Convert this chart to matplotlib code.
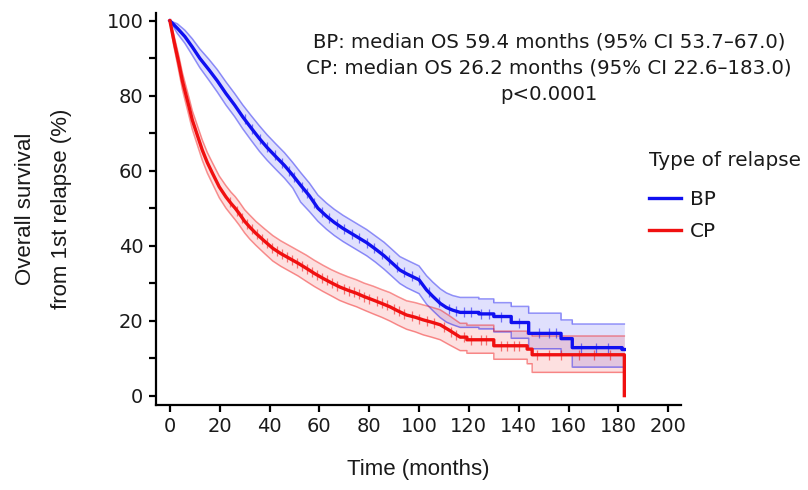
import numpy as np
import matplotlib.pyplot as plt

# Kaplan-Meier estimates: time (months), survival (%) and 95% confidence limits.
# Early on the events are dense enough that the curve is smooth; later the
# individual steps are given explicitly (repeated time = vertical drop).
bp_time = [0, 3, 6, 9, 12, 15.7, 19, 22.5, 26, 29.2, 32.5, 35.9, 39, 42.6, 46,
           49.3, 52.5, 56, 59.4, 62.8, 66, 69.5, 73, 76, 79, 82.5, 86, 89, 92.3, 95,
           97.5, 100, 103, 105.5, 108.5, 111, 113.5, 116.5,
           124, 124, 130, 130, 137, 137, 144, 144, 157, 157, 161.5, 161.5, 181.5, 181.5, 182.4]
bp_surv = [100, 98, 95.8, 93, 90, 86.9, 84, 80.6, 77.5, 74.4, 71.5, 68.6, 66.2, 63.7, 61.4,
           58.8, 56.1, 53.3, 50, 47.9, 46.2, 44.6, 43.2, 42, 40.8, 39.1, 37.3, 35.5, 33.5, 32.5,
           31.7, 30.9, 28.2, 26.5, 24.6, 23.5, 22.8, 22.2,
           22.2, 21.8, 21.8, 21.1, 21.1, 19.5, 19.5, 16.6, 16.6, 15.2, 15.2, 12.8, 12.8, 12.3, 12.3]
bp_upper = [100, 99.2, 97.5, 95.2, 92.5, 89.7, 87, 83.7, 80.6, 77.6, 74.8, 72, 69.6, 67.1, 64.8,
            62.2, 59.5, 56.7, 53.5, 51.4, 49.7, 48.1, 46.7, 45.5, 44.3, 42.6, 40.9, 39.1, 37.1, 36.2,
            35.4, 34.6, 32, 30.3, 28.5, 27.4, 26.7, 26.2,
            26.2, 25.8, 25.8, 24.8, 24.8, 23.8, 23.8, 22, 22, 20.2, 20.2, 19.1, 19.1, 19.1, 19.1]
bp_lower = [100, 96.6, 94, 90.8, 87.5, 84.1, 81, 77.5, 74.4, 71.2, 68.2, 65.2, 62.8, 60.3, 58,
            55.4, 51.6, 49.1, 46.5, 44.4, 42.7, 41.1, 39.7, 38.5, 37.3, 35.6, 33.7, 31.9, 29.9, 28.8,
            28, 27.2, 24.4, 22.7, 20.8, 19.6, 18.9, 18.2,
            18.2, 17.8, 17.8, 17, 17, 15.3, 15.3, 12.5, 12.5, 10.8, 10.8, 7.6, 7.6, 7.6, 7.6]
bp_censor = [30, 33, 36, 39, 42, 45, 48, 50, 53, 55, 58, 61, 64, 67, 70, 73, 76, 79, 82, 85,
             88, 91, 94, 97, 100, 104, 108, 112, 115, 118, 121, 125, 128, 133, 140, 148,
             152, 155, 165, 171, 176]

cp_time = [0, 1.5, 3.6, 5, 6.3, 7.7, 9, 11, 13, 15, 17.1, 19.8, 22.5, 24.5, 26.2,
           27.8, 30, 32, 34.5, 38, 41.3, 44.5, 48, 51.5, 54.7, 58, 61.4, 64.8, 68.1, 71.5,
           74.9, 78, 81.6, 85, 88.3, 91.5, 95, 98.5, 101.7, 105, 108.5, 112, 116.5,
           119.2, 119.2, 130, 130, 143.4, 143.4, 145.4, 145.4, 182.4, 182.4]
cp_surv = [100, 95, 88.6, 84, 80.6, 77, 73.5, 69.5, 65.5, 62.2, 59.3, 55.7, 53, 51.3, 50,
           48.6, 46.5, 45, 43.3, 41.2, 39.3, 37.9, 36.6, 35.3, 34, 32.6, 31.3, 30.1, 29, 28.1,
           27.3, 26.4, 25.5, 24.6, 23.7, 22.6, 21.5, 20.9, 20.2, 19.6, 18.9, 17.5, 15.6,
           15.6, 14.9, 14.9, 13.3, 13.3, 12.4, 12.4, 10.9, 10.9, 0]
cp_upper = [100, 96.5, 90.6, 86.2, 82.9, 79.4, 76, 72.1, 68.2, 64.9, 62.1, 58.6, 56, 54.3, 53.1,
            51.7, 49.6, 48.2, 46.5, 44.5, 42.7, 41.3, 40, 38.7, 37.5, 36.1, 34.8, 33.6, 32.6, 31.7,
            30.9, 30, 29.2, 28.3, 27.5, 26.4, 25.3, 24.8, 24.2, 23.6, 22.9, 21.4, 19.3,
            19.3, 18.8, 18.8, 17.2, 17.2, 16.5, 16.5, 15.9, 15.9, 15.9]
cp_lower = [100, 93.5, 86.5, 81.7, 78.2, 74.5, 71, 66.9, 62.8, 59.4, 56.5, 52.8, 50, 48.3, 46.9,
            45.5, 43.4, 41.8, 40.1, 37.9, 35.9, 34.5, 33.2, 31.9, 30.5, 29.1, 27.8, 26.6, 25.4, 24.5,
            23.7, 22.8, 21.8, 20.9, 19.9, 18.8, 17.7, 17, 16.2, 15.6, 14.9, 13.6, 12,
            12, 11.3, 11.3, 9.7, 9.7, 8.5, 8.5, 6.2, 6.2, 6.2]
cp_censor = [24, 27, 29, 31, 33, 35, 37, 39, 41, 43, 45, 47, 49, 51, 53, 55, 57, 59, 61, 63,
             65, 67, 70, 72, 74, 76, 78, 80, 83, 85, 87, 90, 92, 94, 97, 100, 103, 106, 110,
             113, 115, 118, 121, 124.8, 127, 132.8, 135.5, 138.1, 140.1, 147.5, 152.1,
             156.8, 164.1, 170.1, 176.8]

groups = [
    ('BP', bp_time, bp_surv, bp_upper, bp_lower, bp_censor, '#1010f0'),
    ('CP', cp_time, cp_surv, cp_upper, cp_lower, cp_censor, '#f01010'),
]

text_color = '#1a1a1a'
plt.rcParams['font.family'] = ['DejaVu Sans']
label_font = dict(family=['Liberation Sans Narrow', 'Noto Sans Condensed', 'Liberation Sans'],
                  fontstretch='condensed', fontsize=16, color=text_color)

fig = plt.figure(figsize=(8.08, 4.9), dpi=100)
ax = fig.add_axes([0.193, 0.1735, 0.650, 0.7994])

# confidence bands first so the survival lines sit on top
for name, time, surv, upper, lower, censor, color in groups:
    ax.fill_between(time, lower, upper, color=color, alpha=0.13, lw=0)
    ax.plot(time, upper, color=color, alpha=0.45, lw=1.1)
    ax.plot(time, lower, color=color, alpha=0.45, lw=1.1)

for name, time, surv, upper, lower, censor, color in groups:
    ax.plot(time, surv, color=color, lw=2.4, label=name)
    ax.plot(censor, np.interp(censor, time, surv), ls='none', marker='|', ms=7,
            mew=0.9, color=color, alpha=0.55)

ax.set_xlim(-5.6, 205.2)
ax.set_ylim(-2.5, 102)
ax.set_xticks(range(0, 201, 20))
ax.set_yticks(range(0, 101, 20))
ax.set_yticks(range(10, 100, 20), minor=True)
for side in ['top', 'right']:
    ax.spines[side].set_visible(False)
for side in ['left', 'bottom']:
    ax.spines[side].set_linewidth(1.6)
ax.tick_params(which='both', length=5, width=1.6, labelsize=14, labelcolor=text_color, pad=4)

ax.set_xlabel('Time (months)', labelpad=16, **label_font)
fig.text(26 / 808, 1 - 209 / 490, 'Overall survival', rotation=90, ha='center', va='center',
         **label_font)
fig.text(62 / 808, 1 - 209 / 490, 'from 1st relapse (%)', rotation=90, ha='center', va='center',
         **label_font)

stats = ['BP: median OS 59.4 months (95% CI 53.7\u201367.0)',
         'CP: median OS 26.2 months (95% CI 22.6\u2013183.0)',
         'p<0.0001']
for i, line in enumerate(stats):
    fig.text(549 / 808, 1 - (42 + 26.5 * i) / 490, line, ha='center', va='center',
             fontsize=14.2, color=text_color)

fig.text(649 / 808, 1 - 160 / 490, 'Type of relapse', ha='left', va='center',
         fontsize=14.4, color=text_color)
leg = ax.legend(loc='upper left', bbox_to_anchor=(649 / 808, 1 - 190 / 490),
                bbox_transform=fig.transFigure, frameon=False, fontsize=14.4,
                handlelength=1.6, handletextpad=0.45, labelspacing=0.65,
                borderpad=0, borderaxespad=0)
for t in leg.get_texts():
    t.set_color(text_color)

fig.savefig('out.png', dpi=100)
